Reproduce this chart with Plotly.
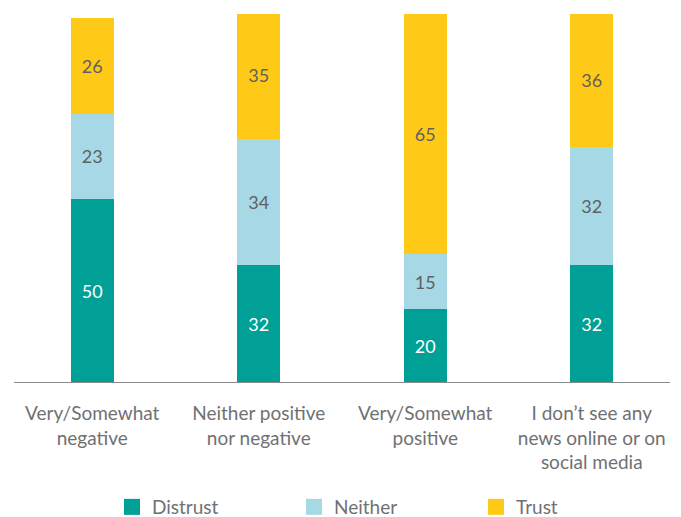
import plotly.graph_objects as go

categories = ["Very/Somewhat<br>negative", "Neither positive<br>nor negative",
              "Very/Somewhat<br>positive", "I don’t see any<br>news online or on<br>social media"]
distrust = [50, 32, 20, 32]
neither = [23, 34, 15, 32]
trust = [26, 35, 65, 36]

series = [
    ("Distrust", distrust, "#00A096", "#ffffff"),
    ("Neither", neither, "#A7D8E5", "#5f6062"),
    ("Trust", trust, "#FFC917", "#5f6062"),
]

FONT = "Lato, 'Open Sans', sans-serif"
GRAY = "#707173"

W, H = 673, 509  # page body has an 8px offset

fig = go.Figure()
for name, vals, col, tcol in series:
    fig.add_trace(go.Bar(
        x=categories, y=vals, name=name, marker=dict(color=col, line=dict(width=0)),
        text=vals, textposition="inside", insidetextanchor="middle",
        textfont=dict(color=tcol, size=18, family=FONT),
        showlegend=False, legendgroup=name, hoverinfo="skip",
    ))
for name, vals, col, tcol in series:
    fig.add_trace(go.Scatter(
        x=[None], y=[None], mode="markers", name=name, legendgroup=name,
        marker=dict(symbol="square", size=16, color=col),
    ))

fig.update_layout(
    barmode="stack",
    bargap=0.74,
    width=W, height=H,
    margin=dict(l=1, r=6, t=6, b=134, autoexpand=False),
    plot_bgcolor="white", paper_bgcolor="white",
    font=dict(family=FONT, color=GRAY),
    uniformtext=dict(mode="show", minsize=10),
    legend=dict(orientation="h", xref="container", x=104/W, xanchor="left",
                yref="container", y=1 - 499/H, yanchor="middle",
                font=dict(size=19, color=GRAY), entrywidth=137, entrywidthmode="pixels",
                itemclick=False, itemdoubleclick=False),
    shapes=[dict(type="line", xref="paper", yref="y", x0=5/666, x1=661/666, y0=0, y1=0,
                 line=dict(color="#8a8a8a", width=2))],
)
fig.update_xaxes(showline=False, ticks="", tickfont=dict(size=19, color=GRAY),
                 ticklabelstandoff=17, automargin=False,
                 showgrid=False, zeroline=False)
fig.update_yaxes(range=[0, 100], visible=False, showgrid=False, zeroline=False)

fig.write_html("out.html")
